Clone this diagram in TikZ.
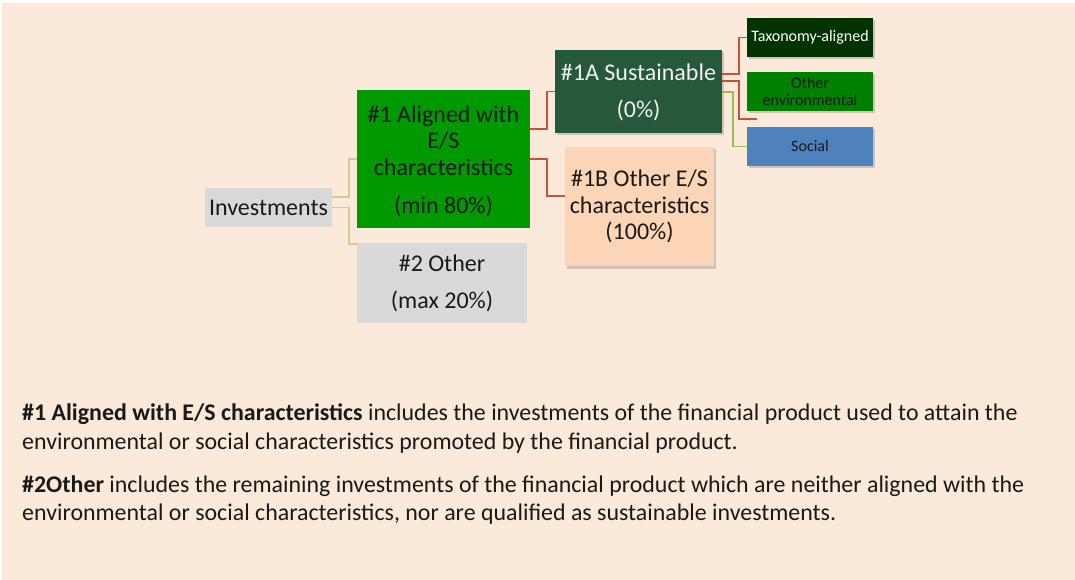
\documentclass[tikz,border=0pt]{standalone}
\usepackage{fontspec}
\setmainfont{Carlito}
\usetikzlibrary{shadows}
\definecolor{bgpeach}{RGB}{251,233,217}
\definecolor{boxgray}{RGB}{217,217,217}
\definecolor{algreen}{RGB}{0,153,0}
\definecolor{susgreen}{RGB}{38,88,59}
\definecolor{taxgreen}{RGB}{0,51,0}
\definecolor{envgreen}{RGB}{0,128,0}
\definecolor{socblue}{RGB}{79,129,189}
\definecolor{obpeach}{RGB}{251,213,181}
\definecolor{redline}{RGB}{197,82,58}
\definecolor{tanline}{RGB}{214,201,142}
\definecolor{grnline}{RGB}{155,187,89}
\newcommand\mvtext[2]{\raisebox{#1}[\height][\depth]{\begin{tabular}{@{}c@{}}#2\end{tabular}}}
\tikzset{
  box/.style={inner sep=0pt, align=center, font=\fontsize{24}{26.5}\selectfont, text=black!90},
  smallbox/.style={inner sep=0pt, align=center, font=\fontsize{16}{17}\selectfont, minimum width=126pt, minimum height=39pt},
  shad/.style={drop shadow={opacity=0.35, shadow xshift=2pt, shadow yshift=-2.5pt}},
  conn/.style={line width=1.8pt},
}
\begin{document}
\begin{tikzpicture}[x=1pt,y=-1pt]
\useasboundingbox (0,0) rectangle (1075,580);
\fill[white] (0,0) rectangle (1075,580);
\fill[bgpeach] (2,3) rectangle (1075,580);

\node[box, fill=boxgray, minimum width=127pt, minimum height=39pt] (inv) at (268.5,207.5) {Investments};
\node[box, fill=algreen, minimum width=173pt, minimum height=138pt] (al) at (443.5,159) {\mvtext{-3.5pt}{\#1 Aligned with\\ E/S\\ characteristics\\[12pt] (min 80\%)}};
\node[box, fill=boxgray, minimum width=170pt, minimum height=80pt] (oth) at (442,283) {\mvtext{-2pt}{\#2 Other\\[10.5pt] (max 20\%)}};
\node[box, shad, fill=susgreen, text=white!95!black, minimum width=167pt, minimum height=83pt] (sus) at (638.5,91.5) {\mvtext{-2pt}{\#1A Sustainable\\[10.5pt] (0\%)}};
\node[box, shad, fill=obpeach, minimum width=149pt, minimum height=119pt] (ob) at (639.5,206.5) {\mvtext{-1.5pt}{\#1B Other E/S\\ characteristics\\ (100\%)}};
\node[smallbox, shad, fill=taxgreen, text=white] (tax) at (810,37.5) {Taxonomy-aligned};
\node[smallbox, shad, fill=envgreen, text=black!90] (env) at (810,91.5) {Other\\ environmental};
\node[smallbox, shad, fill=socblue, text=black!90] (soc) at (810,146.5) {Social};
\coordinate (envend) at (757,119);

\draw[conn, tanline] ([yshift=10.5pt]inv.east) -- ++(17,0) |- (al.west);
\draw[conn, tanline] (inv.east) -- ++(17,0) |- ([yshift=-1pt]oth.north west);
\draw[conn, redline] ([yshift=30pt]al.east) -- ++(17,0) |- (sus.west);
\draw[conn, redline] (al.east) -- ++(17,0) |- ([yshift=10.5pt]ob.west);
\draw[conn, redline] ([yshift=17.5pt]sus.east) -- ++(17,0) |- (tax.west);
\draw[conn, redline] ([yshift=10.5pt]sus.east) -- ++(17,0) |- (envend);
\draw[conn, grnline] ([yshift=-0.5pt]sus.east) -- ++(11,0) |- (soc.west);

\node[anchor=north west, align=left, inner sep=0pt, font=\fontsize{23.9}{28.5}\selectfont, text=black!90] (txt) at (22,403.5)
{\textbf{\#1 Aligned with E/S characteristics} includes the investments of the financial product used to attain the\\
environmental or social characteristics promoted by the financial product.\\[14.5pt]
\textbf{\#2Other} includes the remaining investments of the financial product which are neither aligned with the\\
environmental or social characteristics, nor are qualified as sustainable investments.};
\end{tikzpicture}
\end{document}
